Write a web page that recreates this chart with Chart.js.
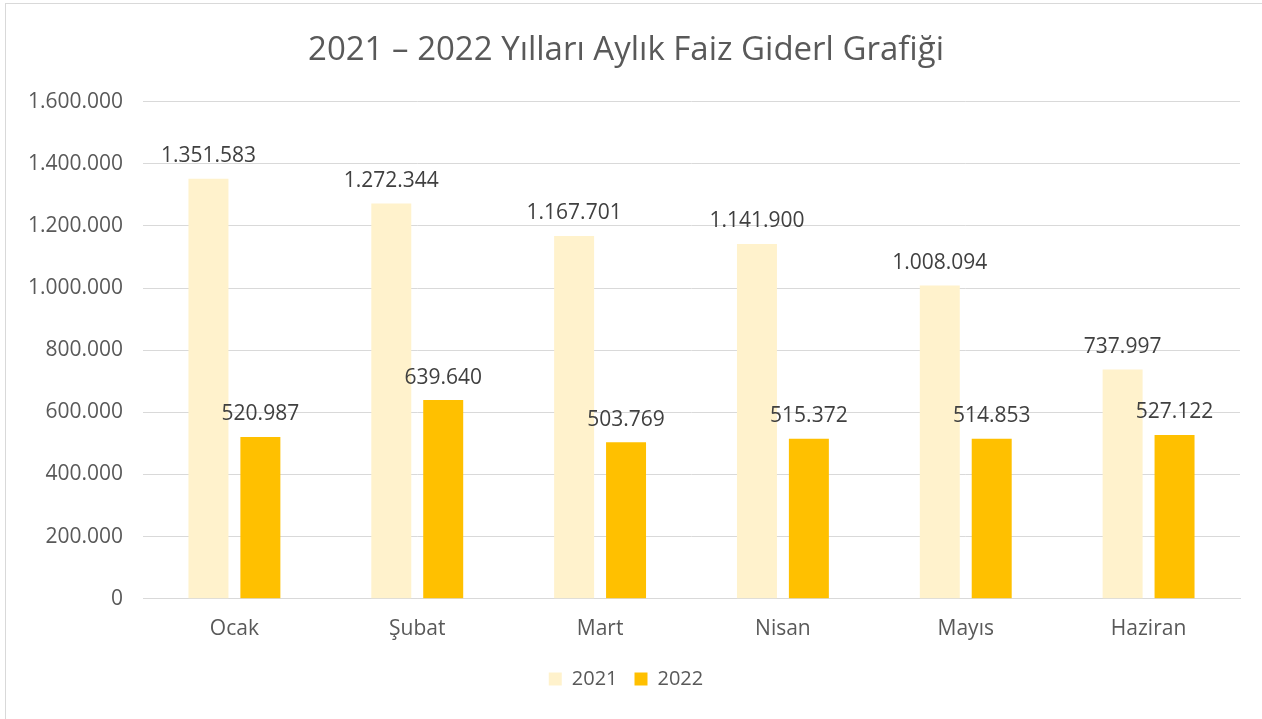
<!DOCTYPE html>
<html>
<head>
<meta charset="utf-8">
<script src="https://cdn.jsdelivr.net/npm/chart.js@4"></script>
<style>
  html, body { margin: 0; padding: 0; background: #fff; }
  #wrap { width: 1262px; height: 719px; }
</style>
</head>
<body>
<div id="wrap"><canvas id="myChart" width="1262" height="719"></canvas></div>
<script>
const months = ["Ocak", "Şubat", "Mart", "Nisan", "Mayıs", "Haziran"];
const values2021 = [1351583, 1272344, 1167701, 1141900, 1008094, 737997];
const values2022 = [520987, 639640, 503769, 515372, 514853, 527122];
const seriesNames = ["2021", "2022"];

const fontName = "'Open Sans', 'Liberation Sans', sans-serif";

// 1.600.000 style numbers
function fmt(v) {
  return String(Math.round(v)).replace(/\B(?=(\d{3})+(?!\d))/g, ".");
}

const frame = {
  id: "frame",
  beforeDraw(chart) {
    const c = chart.ctx;
    c.save();
    c.fillStyle = "#fff";
    c.fillRect(0, 0, chart.width, chart.height);
    c.strokeStyle = "#d9d9d9";
    c.lineWidth = 1;
    c.strokeRect(5.5, 3.5, 1262, 730);
    c.restore();
  }
};

const barLabels = {
  id: "barLabels",
  afterDatasetsDraw(chart) {
    const c = chart.ctx;
    c.save();
    c.font = "21px " + fontName;
    c.fillStyle = "#404040";
    c.textAlign = "center";
    c.textBaseline = "bottom";
    chart.data.datasets.forEach((ds, i) => {
      chart.getDatasetMeta(i).data.forEach((bar, j) => {
        c.fillText(fmt(ds.data[j]), bar.x, bar.y - 12);
      });
    });
    c.restore();
  }
};

new Chart(document.getElementById("myChart").getContext("2d"), {
  type: "bar",
  data: {
    labels: months,
    datasets: [
      { label: seriesNames[0], data: values2021, backgroundColor: "#FFF2CC" },
      { label: seriesNames[1], data: values2022, backgroundColor: "#FFC000" }
    ]
  },
  options: {
    responsive: false,
    animation: false,
    categoryPercentage: 0.568,
    barPercentage: 0.77,
    layout: { padding: { left: 12, right: 22, top: 0, bottom: 20 } },
    scales: {
      x: {
        grid: { display: false },
        border: { color: "#d9d9d9" },
        ticks: { color: "#595959", font: { family: fontName, size: 21 }, padding: 10 }
      },
      y: {
        min: 0,
        max: 1600000,
        afterFit(s) { s.width = 131; },
        grid: { color: "#d9d9d9", drawTicks: false },
        border: { display: false },
        ticks: {
          stepSize: 200000,
          color: "#595959",
          padding: 20,
          font: { family: fontName, size: 21 },
          callback: v => fmt(v)
        }
      }
    },
    plugins: {
      title: {
        display: true,
        text: "2021 – 2022 Yılları Aylık Faiz Giderl Grafiği",
        color: "#595959",
        font: { family: fontName, size: 33, weight: "normal" },
        padding: { top: 31, bottom: 31 }
      },
      legend: {
        position: "bottom",
        labels: {
          color: "#595959",
          font: { family: fontName, size: 20 },
          boxWidth: 13,
          boxHeight: 13,
          padding: 17
        }
      },
      tooltip: { enabled: false }
    }
  },
  plugins: [frame, barLabels]
});
</script>
</body>
</html>
